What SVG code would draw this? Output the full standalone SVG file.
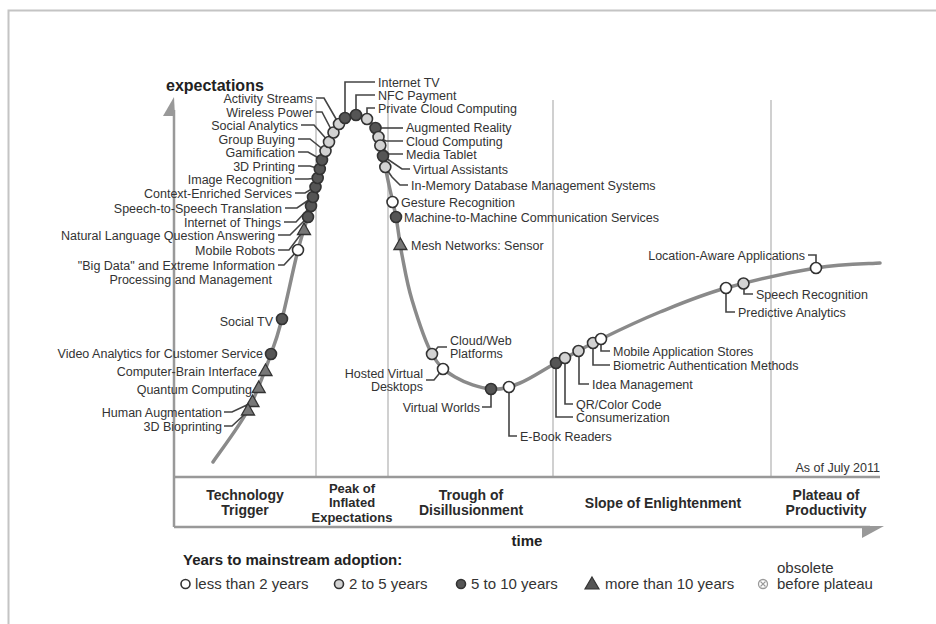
<svg xmlns="http://www.w3.org/2000/svg" width="936" height="624" viewBox="0 0 936 624">
<style>
text{font-family:"Liberation Sans",Arial,sans-serif;fill:#333}
.l{font-size:12.5px}
.e{text-anchor:end}
.ph{font-size:14px;font-weight:bold;text-anchor:middle;fill:#2a2a2a}
.lg{font-size:15px}
.dot{stroke:#333;stroke-width:1.6}
.w{fill:#ffffff}
.g{fill:#d2d2d2}
.d{fill:#555555}
.tri{fill:#777;stroke:#333;stroke-width:1.3}
.ld{fill:none;stroke:#444;stroke-width:1.6}
.sep{stroke:#d0d0d0;stroke-width:2}
.ax{stroke:#999;stroke-width:2.5;fill:none}
</style>
<defs>
<path id="tr" d="M0,-7 L6.5,4.5 L-6.5,4.5 Z"/>
</defs>
<rect width="936" height="624" fill="#fff"/>
<rect x="8.5" y="10.5" width="940" height="620" fill="none" stroke="#c4c4c4" stroke-width="2"/>

<g id="frame">
<line class="sep" x1="316" y1="100" x2="316" y2="477"/>
<line class="sep" x1="388" y1="100" x2="388" y2="477"/>
<line class="sep" x1="553" y1="100" x2="553" y2="477"/>
<line class="sep" x1="771" y1="100" x2="771" y2="477"/>
<line class="ax" x1="174" y1="110" x2="174" y2="527"/>
<polygon points="163,116 174,97 175,116" fill="#999"/>
<line class="ax" x1="174" y1="477" x2="880" y2="477"/>
<line class="ax" x1="174" y1="527" x2="870" y2="527"/>
<polygon points="862,526 884,526 862,538" fill="#999"/>
<text x="166" y="91" style="font-size:16px;font-weight:bold;fill:#222">expectations</text>
<text x="527" y="546" style="font-size:15px;font-weight:bold;text-anchor:middle;fill:#222">time</text>
<text x="880" y="472" class="l e">As of July 2011</text>
</g>

<g id="phases">
<text class="ph" x="245" y="500">Technology</text>
<text class="ph" x="245" y="515">Trigger</text>
<text class="ph" x="352" y="492.5" style="font-size:13px">Peak of</text>
<text class="ph" x="352" y="507" style="font-size:13px">Inflated</text>
<text class="ph" x="352" y="521.5" style="font-size:13px">Expectations</text>
<text class="ph" x="471" y="500">Trough of</text>
<text class="ph" x="471" y="515">Disillusionment</text>
<text class="ph" x="663" y="508">Slope of Enlightenment</text>
<text class="ph" x="826" y="500">Plateau of</text>
<text class="ph" x="826" y="515">Productivity</text>
</g>

<g id="curve">
<path d="M213,462 C218.8,453.3 238.3,428 248,410 C257.7,392 265.3,369.2 271,354 C276.7,338.8 277.5,336.3 282,319 C286.5,301.7 293.2,268.8 298,250 C302.8,231.2 307,221 311,206 C315,191 318.3,172.3 322,160 C325.7,147.7 329.2,139 333,132 C336.8,125 341.2,120.8 345,118 C348.8,115.2 352.3,114.8 356,115 C359.7,115.2 363.7,116.5 367,119 C370.3,121.5 373.5,124.5 376,130 C378.5,135.5 379.8,142.8 382,152 C384.2,161.2 386.7,174.2 389,185 C391.3,195.8 393.8,205.3 396,217 C398.2,228.7 399.3,241.2 402,255 C404.7,268.8 407,283.5 412,300 C417,316.5 424.8,341.2 432,354 C439.2,366.8 445.2,371.2 455,377 C464.8,382.8 480.2,388 491,389 C501.8,390 509.2,387.3 520,383 C530.8,378.7 542.5,370.3 556,363 C569.5,355.7 583.7,347.5 601,339 C618.3,330.5 639.2,320.5 660,312 C680.8,303.5 700,295.3 726,288 C752,280.7 790.3,272.2 816,268 C841.7,263.8 869.3,263.8 880,263" fill="none" stroke="#8a8a8a" stroke-width="3.5" stroke-linecap="round"/>
</g>

<g id="connectors">
<path class="ld" d="M316,98 H324 L339,124"/>
<path class="ld" d="M316,112 H322 L333,133"/>
<path class="ld" d="M301,125 H314 L329,142"/>
<path class="ld" d="M298,139 H310 L325,151"/>
<path class="ld" d="M298,152 H308 L322,160"/>
<path class="ld" d="M298,166 H310 L320,169"/>
<path class="ld" d="M295,179 H308 L318,178"/>
<path class="ld" d="M295,193 H305 L315,187"/>
<path class="ld" d="M285,208 H297 L313,197"/>
<path class="ld" d="M284,222 H296 L311,206"/>
<path class="ld" d="M278,235 H290 L308,217"/>
<path class="ld" d="M278,250 H289 L304,230"/>
<path class="ld" d="M278,265 H284 L298,250"/>
<path class="ld" d="M224,412 H232 L249,404"/>
<path class="ld" d="M224,426 H232 L245,414"/>
<path class="ld" d="M375,82 H345 V118"/>
<path class="ld" d="M375,95 H356 V115"/>
<path class="ld" d="M375,108 H367 V119"/>
<path class="ld" d="M376,128 H403"/>
<path class="ld" d="M378,137 L386,141 H403"/>
<path class="ld" d="M380,145 L389,154 H403"/>
<path class="ld" d="M383,156 L402,169 H410"/>
<path class="ld" d="M385,167 L392,177 L400,185 H408"/>
<path class="ld" d="M432,354 L438,347 H447"/>
<path class="ld" d="M426,380 H434 L443,369"/>
<path class="ld" d="M482,407 H491 V389"/>
<path class="ld" d="M509,387 V436 H517"/>
<path class="ld" d="M556,363 V417 H573"/>
<path class="ld" d="M565,358 V404 H573"/>
<path class="ld" d="M579,351 V384 H589"/>
<path class="ld" d="M593,343 V365 H610"/>
<path class="ld" d="M601,339 V351 H610"/>
<path class="ld" d="M726,288 V312 H735"/>
<path class="ld" d="M744,283 V294 H753"/>
<path class="ld" d="M808,255 H816 V268"/>
</g>

<g id="n-big-data"><circle class="dot w" cx="298" cy="250" r="5.5"/><text class="l e" x="275" y="269.5">"Big Data" and Extreme Information</text><text class="l e" x="272" y="283.5">Processing and Management</text></g>
<g id="n-mobile-robots"><use href="#tr" class="tri" x="304" y="230"/><text class="l e" x="275" y="254.5">Mobile Robots</text></g>
<g id="n-nlqa"><circle class="dot d" cx="308" cy="217" r="5.5"/><text class="l e" x="275" y="239.5">Natural Language Question Answering</text></g>
<g id="n-iot"><circle class="dot d" cx="311" cy="206" r="5.5"/><text class="l e" x="281" y="226.5">Internet of Things</text></g>
<g id="n-s2s"><circle class="dot d" cx="313" cy="197" r="5.5"/><text class="l e" x="282" y="212.5">Speech-to-Speech Translation</text></g>
<g id="n-context"><circle class="dot d" cx="315.5" cy="187" r="5.5"/><text class="l e" x="292" y="197.5">Context-Enriched Services</text></g>
<g id="n-image"><circle class="dot d" cx="317.7" cy="178" r="5.5"/><text class="l e" x="292" y="183.5">Image Recognition</text></g>
<g id="n-3dp"><circle class="dot d" cx="319.8" cy="169" r="5.5"/><text class="l e" x="295" y="170.5">3D Printing</text></g>
<g id="n-gamif"><circle class="dot d" cx="322" cy="160" r="5.5"/><text class="l e" x="295" y="156.5">Gamification</text></g>
<g id="n-group"><circle class="dot g" cx="325.5" cy="151" r="5.5"/><text class="l e" x="295" y="143.5">Group Buying</text></g>
<g id="n-social"><circle class="dot g" cx="329" cy="142" r="5.5"/><text class="l e" x="298" y="129.5">Social Analytics</text></g>
<g id="n-wireless"><circle class="dot g" cx="333.5" cy="132.5" r="5.5"/><text class="l e" x="313" y="116.5">Wireless Power</text></g>
<g id="n-activity"><circle class="dot g" cx="339" cy="124" r="5.5"/><text class="l e" x="313" y="102.5">Activity Streams</text></g>
<g id="n-itv"><circle class="dot d" cx="345" cy="118" r="5.5"/><text class="l" x="378" y="86.5">Internet TV</text></g>
<g id="n-nfc"><circle class="dot d" cx="356" cy="115" r="5.5"/><text class="l" x="378" y="99.5">NFC Payment</text></g>
<g id="n-private"><circle class="dot g" cx="367" cy="119" r="5.5"/><text class="l" x="378" y="112.5">Private Cloud Computing</text></g>
<g id="n-ar"><circle class="dot d" cx="375.5" cy="128" r="5.5"/><text class="l" x="406" y="131.5">Augmented Reality</text></g>
<g id="n-cloud"><circle class="dot g" cx="378.5" cy="137" r="5.5"/><text class="l" x="406" y="145.5">Cloud Computing</text></g>
<g id="n-tablet"><circle class="dot g" cx="380.3" cy="145.5" r="5.5"/><text class="l" x="406" y="158.5">Media Tablet</text></g>
<g id="n-va"><circle class="dot d" cx="383" cy="156" r="5.5"/><text class="l" x="413" y="173.5">Virtual Assistants</text></g>
<g id="n-inmem"><circle class="dot g" cx="385.3" cy="167" r="5.5"/><text class="l" x="411" y="189.5">In-Memory Database Management Systems</text></g>
<g id="n-gesture"><circle class="dot w" cx="392.5" cy="202" r="5.5"/><text class="l" x="401" y="206.5">Gesture Recognition</text></g>
<g id="n-m2m"><circle class="dot d" cx="396" cy="217" r="5.5"/><text class="l" x="404" y="221.5">Machine-to-Machine Communication Services</text></g>
<g id="n-mesh"><use href="#tr" class="tri" x="400.4" y="245"/><text class="l" x="411" y="249.5">Mesh Networks: Sensor</text></g>
<g id="n-socialtv"><circle class="dot d" cx="282" cy="319" r="5.5"/><text class="l e" x="273" y="325.5">Social TV</text></g>
<g id="n-video"><circle class="dot d" cx="271" cy="354" r="5.5"/><text class="l e" x="263" y="357.5">Video Analytics for Customer Service</text></g>
<g id="n-cbi"><use href="#tr" class="tri" x="265.5" y="371"/><text class="l e" x="257" y="375.5">Computer-Brain Interface</text></g>
<g id="n-quantum"><use href="#tr" class="tri" x="258.7" y="388"/><text class="l e" x="252" y="393.5">Quantum Computing</text></g>
<g id="n-human"><use href="#tr" class="tri" x="252.5" y="402"/><text class="l e" x="222" y="416.5">Human Augmentation</text></g>
<g id="n-bioprint"><use href="#tr" class="tri" x="248" y="410.5"/><text class="l e" x="222" y="430.5">3D Bioprinting</text></g>
<g id="n-cloudweb"><circle class="dot g" cx="432" cy="354" r="5.5"/><text class="l" x="450" y="344.5">Cloud/Web</text><text class="l" x="450" y="358">Platforms</text></g>
<g id="n-hvd"><circle class="dot w" cx="443" cy="369" r="5.5"/><text class="l e" x="423" y="377.5">Hosted Virtual</text><text class="l e" x="423" y="391">Desktops</text></g>
<g id="n-vworlds"><circle class="dot d" cx="491" cy="389" r="5.5"/><text class="l e" x="480" y="411.5">Virtual Worlds</text></g>
<g id="n-ebook"><circle class="dot w" cx="509" cy="387" r="5.5"/><text class="l" x="520" y="440.5">E-Book Readers</text></g>
<g id="n-consumer"><circle class="dot d" cx="556" cy="363" r="5.5"/><text class="l" x="576" y="421.5">Consumerization</text></g>
<g id="n-qr"><circle class="dot g" cx="565" cy="358" r="5.5"/><text class="l" x="576" y="408.5">QR/Color Code</text></g>
<g id="n-idea"><circle class="dot g" cx="578.5" cy="351" r="5.5"/><text class="l" x="592" y="388.5">Idea Management</text></g>
<g id="n-biometric"><circle class="dot g" cx="593" cy="343" r="5.5"/><text class="l" x="613" y="369.5">Biometric Authentication Methods</text></g>
<g id="n-appstores"><circle class="dot w" cx="601" cy="339" r="5.5"/><text class="l" x="613" y="355.5">Mobile Application Stores</text></g>
<g id="n-predictive"><circle class="dot w" cx="726" cy="288" r="5.5"/><text class="l" x="738" y="316.5">Predictive Analytics</text></g>
<g id="n-speech"><circle class="dot g" cx="743.5" cy="283.5" r="5.5"/><text class="l" x="756" y="298.5">Speech Recognition</text></g>
<g id="n-location"><circle class="dot w" cx="816" cy="268" r="5.5"/><text class="l e" x="805" y="259.5">Location-Aware Applications</text></g>

<g id="legend">
<text x="183" y="565" style="font-size:15px;font-weight:bold;fill:#222">Years to mainstream adoption:</text>
<circle class="dot w" cx="185.5" cy="584" r="4.5"/>
<text class="lg" x="195" y="589">less than 2 years</text>
<circle class="dot g" cx="339" cy="584" r="4.5"/>
<text class="lg" x="349" y="589">2 to 5 years</text>
<circle class="dot d" cx="461" cy="584" r="4.5"/>
<text class="lg" x="471" y="589">5 to 10 years</text>
<path d="M592,577 L599,589 L585,589 Z" fill="#555" stroke="#333" stroke-width="1.2"/>
<text class="lg" x="605" y="589">more than 10 years</text>
<circle cx="763" cy="584" r="4.5" fill="#fff" stroke="#999" stroke-width="1.3"/>
<path d="M760.5,581.5 L765.5,586.5 M765.5,581.5 L760.5,586.5" stroke="#999" stroke-width="1.2"/>
<text class="lg" x="777" y="573">obsolete</text>
<text class="lg" x="777" y="589">before plateau</text>
</g>
</svg>
